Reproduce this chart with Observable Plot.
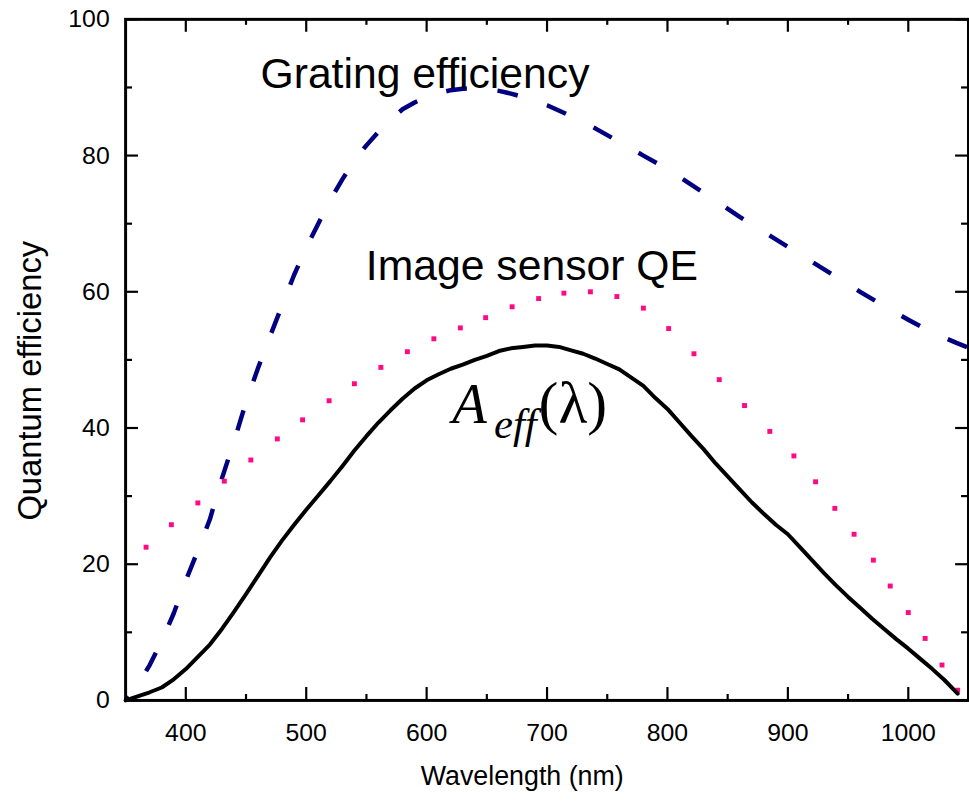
<!DOCTYPE html>
<html><head><meta charset="utf-8">
<script src="https://cdn.jsdelivr.net/npm/d3@7"></script>
<script src="https://cdn.jsdelivr.net/npm/@observablehq/plot@0.6"></script>
<style>html,body{margin:0;padding:0;overflow:hidden;background:#fff}</style>
</head><body><div id="chart"></div>
<script>
// A_eff(lambda) — solid black
const aeffWl = [350,360,370,380,390,400,410,420,430,440,450,460,470,480,490,500,510,520,530,540,550,560,570,580,590,600,610,620,630,640,650,660,670,680,690,700,710,720,730,740,750,760,770,780,790,800,810,820,830,840,850,860,870,880,890,900,910,920,930,940,950,960,970,980,990,1000,1010,1020,1030,1041];
const aeffVal = [0,0.6,1.2,1.9,3.1,4.6,6.4,8.2,10.5,13.0,15.6,18.3,21.0,23.5,25.8,28.0,30.1,32.2,34.4,36.7,38.8,40.8,42.6,44.3,45.8,47.0,47.9,48.7,49.3,50.0,50.6,51.3,51.7,51.9,52.1,52.1,51.9,51.4,50.9,50.2,49.4,48.6,47.4,46.2,44.4,42.8,40.8,38.8,36.9,34.8,32.9,31.0,29.1,27.4,25.8,24.4,22.5,20.6,18.7,16.9,15.2,13.6,12.0,10.5,9.0,7.6,6.1,4.6,3.0,1.0];

// Grating efficiency — navy dashed
const gratWl = [350,360,370,380,390,400,410,420,430,440,450,460,470,480,490,500,510,520,530,540,550,560,570,580,590,600,610,620,630,640,650,660,670,680,690,700,720,740,760,780,800,820,840,860,880,900,920,940,960,980,1000,1020,1040,1050];
const gratVal = [0,2.2,5.2,8.7,12.8,17.6,22.0,26.6,32.6,38.0,43.8,48.8,53.5,58.0,62.5,66.5,70.0,73.5,76.5,79.3,81.5,83.5,85.3,86.8,87.8,88.6,89.2,89.6,89.8,89.9,89.8,89.5,89.1,88.6,88.0,87.4,85.8,84.0,82.0,80.0,78.0,75.7,73.4,71.0,68.8,66.6,64.4,62.2,60.0,57.9,55.9,54.0,52.5,51.8];

// Image sensor QE — pink dotted
const qeWl = [367,388,410,432,454,476,497,519,540,562,584,606,628,649,671,693,714,736,758,780,801,822,843,864,885,905,923,939,955,971,985,1000,1014,1028,1041];
const qeVal = [22.5,25.8,29.0,32.2,35.3,38.4,41.2,44.0,46.5,48.9,51.2,53.1,54.7,56.2,57.8,59.0,59.8,60.0,59.3,57.6,54.6,50.9,47.1,43.3,39.5,35.9,32.1,28.2,24.4,20.6,16.8,12.9,9.1,5.2,1.5];

const xMajor = [400,500,600,700,800,900,1000];
const xMinor = [450,550,650,750,850,950];
const yMajor = [0,20,40,60,80,100];
const yMinor = [10,30,50,70,90];
const xTitle = "Wavelength (nm)";
const yTitle = "Quantum efficiency";
const seriesLabels = ["Grating efficiency", "Image sensor QE"];

const aeff = aeffWl.map((x, i) => ({x, y: aeffVal[i]}));
const grat = gratWl.map((x, i) => ({x, y: gratVal[i]}));
const qe = qeWl.map((x, i) => ({x, y: qeVal[i]}));

const W = 976, H = 802, ML = 126, MR = 1, MT = 19, MB = 97;
const IW = W - ML - MR, IH = H - MT - MB;
const sans = "'Liberation Sans', Arial, sans-serif";
const serif = "'Liberation Serif', 'Times New Roman', serif";

const chart = Plot.plot({
  width: W, height: H,
  marginLeft: ML, marginRight: MR, marginTop: MT, marginBottom: MB,
  style: {fontFamily: sans, background: "#fff", overflow: "visible"},
  x: {domain: [350, 1050]},
  y: {domain: [0, 100]},
  marks: [
    Plot.line(grat, {x: "x", y: "y", stroke: "#000080", strokeWidth: 4.5, strokeDasharray: "21,31", strokeDashoffset: 16, strokeLinecap: "butt"}),
    Plot.dot(qe, {x: "x", y: "y", symbol: "square", r: 2.8, fill: "#ff0a84", stroke: "none"}),
    Plot.line(aeff, {x: "x", y: "y", stroke: "#000", strokeWidth: 4, strokeLinejoin: "round"}),
    // ticks (inward)
    Plot.tickX(xMajor, {x: d => d, insetTop: IH - 13, stroke: "#000", strokeWidth: 2.2}),
    Plot.tickX(xMinor, {x: d => d, insetTop: IH - 6, stroke: "#000", strokeWidth: 2.2}),
    Plot.tickX(xMajor, {x: d => d, insetBottom: IH - 13, stroke: "#000", strokeWidth: 2.2}),
    Plot.tickX(xMinor, {x: d => d, insetBottom: IH - 6, stroke: "#000", strokeWidth: 2.2}),
    Plot.tickY(yMajor, {y: d => d, insetRight: IW - 13, stroke: "#000", strokeWidth: 2.2}),
    Plot.tickY(yMinor, {y: d => d, insetRight: IW - 7, stroke: "#000", strokeWidth: 2.2}),
    Plot.tickY(yMajor, {y: d => d, insetLeft: IW - 13, stroke: "#000", strokeWidth: 2.2}),
    Plot.tickY(yMinor, {y: d => d, insetLeft: IW - 7, stroke: "#000", strokeWidth: 2.2}),
    Plot.frame({stroke: "#000", strokeWidth: 3}),
    Plot.axisX({ticks: xMajor, tickSize: 0, tickPadding: 23, fontSize: 25, label: null, tickFormat: d => String(d)}),
    Plot.axisY({ticks: yMajor, tickSize: 0, tickPadding: 16, fontSize: 25, label: null, tickFormat: d => String(d)}),
    Plot.text([xTitle], {frameAnchor: "bottom", dx: -25, dy: 85, lineAnchor: "bottom", fontSize: 27, fill: "#000"}),
    Plot.text([yTitle], {frameAnchor: "left", dx: -85, dy: 21, rotate: -90, textAnchor: "middle", lineAnchor: "bottom", fontSize: 33, fill: "#000"}),
    // annotations
    Plot.text([seriesLabels[0]], {x: 462, y: 89.9, textAnchor: "start", lineAnchor: "bottom", fontSize: 43, fill: "#000"}),
    Plot.text([seriesLabels[1]], {x: 549.5, y: 61.7, textAnchor: "start", lineAnchor: "bottom", fontSize: 43, fill: "#000"}),
    Plot.text(["A"], {x: 621.3, y: 40.8, textAnchor: "start", lineAnchor: "bottom", fontSize: 57, fontStyle: "italic", fontFamily: serif, fill: "#000"}),
    Plot.text(["eff"], {x: 655.9, y: 38.6, textAnchor: "start", lineAnchor: "bottom", fontSize: 43, fontStyle: "italic", fontFamily: serif, fill: "#000"}),
    Plot.text(["(λ)"], {x: 693, y: 40.8, textAnchor: "start", lineAnchor: "bottom", fontSize: 60, fontFamily: serif, fill: "#000"})
  ]
});
document.getElementById("chart").appendChild(chart);
</script>
</body></html>
